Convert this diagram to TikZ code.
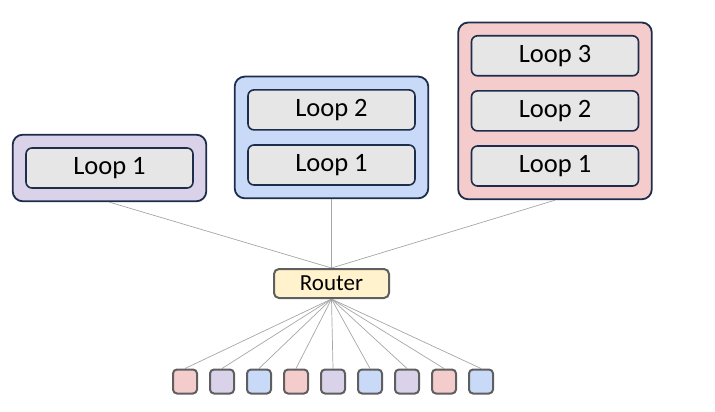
\documentclass[tikz,border=0pt]{standalone}
\usepackage{fontspec}
\setmainfont{Carlito}
\usetikzlibrary{%
    backgrounds,
    fit,
    positioning
}

\definecolor{groupPurple}{HTML}{D9D2E9}
\definecolor{groupBlue}{HTML}{C9DAF8}
\definecolor{groupRed}{HTML}{F4CCCC}
\definecolor{loopGray}{HTML}{E6E6E6}
\definecolor{routerYellow}{HTML}{FFF2CC}
\definecolor{navyLine}{HTML}{1E2D4B}
\definecolor{darkGray}{HTML}{5F5F5F}
\definecolor{wireGray}{HTML}{A6A6A6}

\tikzset{
    loopbox/.style={draw=navyLine, line width=1.6pt, fill=loopGray,
                    rounded corners=6pt, minimum width=167pt, minimum height=40pt,
                    inner sep=0pt, font=\fontsize{26.5}{30}\selectfont},
    groupbox/.style={draw=navyLine, line width=1.8pt, rounded corners=10pt,
                     inner sep=12.5pt},
    routerbox/.style={draw=darkGray, line width=2pt, fill=routerYellow,
                      rounded corners=5pt, minimum width=115pt, minimum height=29pt,
                      inner sep=0pt, font=\fontsize{23}{26}\selectfont},
    client/.style={draw=darkGray, line width=2pt, rounded corners=4pt,
                   minimum size=24pt, inner sep=0pt},
    wire/.style={draw=wireGray, line width=0.7pt}
}

\begin{document}
\begin{tikzpicture}[x=1pt, y=-1pt]
    \useasboundingbox (0,0) rectangle (715,412);

    % loops of each group
    \node[loopbox] (g1l1) at (109.5,168) {Loop 1};

    \node[loopbox] (g2l1) at (331.5,165) {Loop 1};
    \node[loopbox, above=13.5pt of g2l1] (g2l2) {Loop 2};

    \node[loopbox] (g3l1) at (555,166) {Loop 1};
    \node[loopbox, above=13.5pt of g3l1] (g3l2) {Loop 2};
    \node[loopbox, above=13.5pt of g3l2] (g3l3) {Loop 3};

    \begin{pgfonlayer}{background}
        \node[groupbox, fill=groupPurple, fit=(g1l1)] (g1) {};
        \node[groupbox, fill=groupBlue, fit=(g2l1)(g2l2)] (g2) {};
        \node[groupbox, fill=groupRed, fit=(g3l1)(g3l3)] (g3) {};
    \end{pgfonlayer}

    \node[routerbox] (router) at (331.5,283.5) {Router};

    % clients
    \foreach \Idx/\Col in {0/groupRed, 1/groupPurple, 2/groupBlue,
                           3/groupRed, 4/groupPurple, 5/groupBlue,
                           6/groupPurple, 7/groupRed, 8/groupBlue}
        \node[client, fill=\Col] (c\Idx) at (185+37*\Idx,381.5) {};

    \begin{pgfonlayer}{background}
        \foreach \Group in {g1,g2,g3}
            \draw[wire] (\Group.south) -- (router.north);
        \foreach \Idx in {0,...,8}
            \draw[wire] (router.south) -- (c\Idx.north);
    \end{pgfonlayer}
\end{tikzpicture}
\end{document}
